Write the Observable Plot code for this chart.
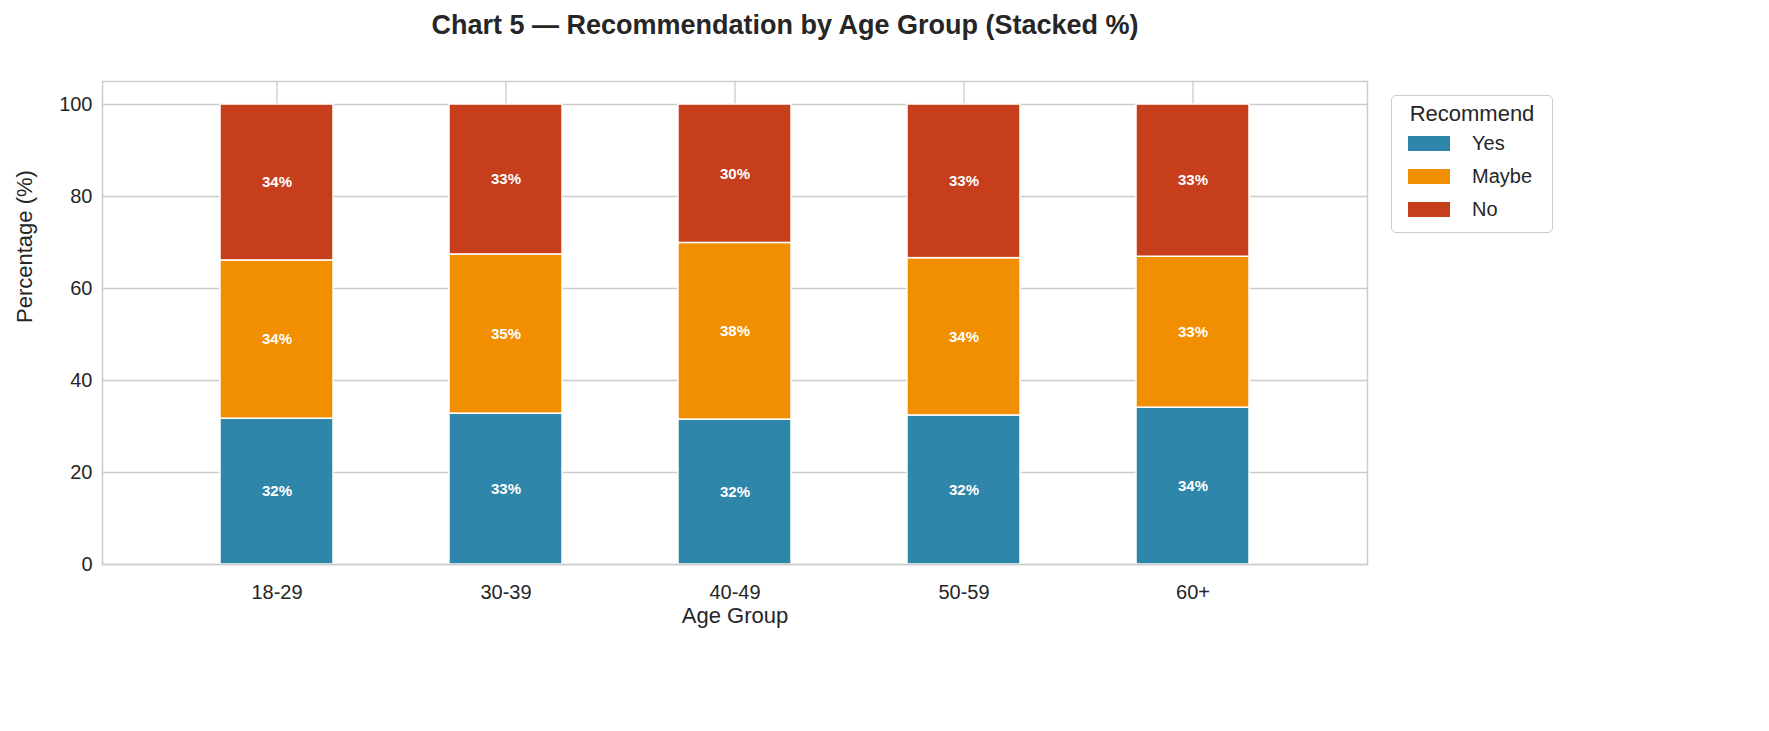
<!DOCTYPE html>
<html><head><meta charset="utf-8">
<script src="https://cdn.jsdelivr.net/npm/d3@7"></script>
<script src="https://cdn.jsdelivr.net/npm/@observablehq/plot@0.6"></script>
<style>
body{margin:0;background:#fff;font-family:"Liberation Sans",Arial,sans-serif;}
#wrap{position:relative;width:1769px;height:731px;}
#title{position:absolute;top:10px;left:0;width:1570px;text-align:center;font-weight:bold;font-size:27px;color:#262626;}
#chart{position:absolute;top:70px;left:0;}
#legend{position:absolute;left:1391px;top:95px;width:162px;height:138px;border:1.5px solid #ccc;border-radius:5px;box-sizing:border-box;font-size:20px;color:#262626;}
#legend .t{text-align:center;font-size:22px;margin-top:5px;}
#legend .r{display:flex;align-items:center;height:33px;padding-left:16px;}
#legend .s{width:42px;height:15px;margin-right:22px;}
</style></head><body>
<div id="wrap">
<div id="title">Chart 5 — Recommendation by Age Group (Stacked %)</div>
<div id="chart"></div>
<div id="legend"><div class="t">Recommend</div></div>
</div>
<script>
const groups = ["18-29","30-39","40-49","50-59","60+"];
const responses = ["Yes","Maybe","No"];
const colors = ["#2e86ab","#f18f01","#c73e1d"];
const yes = [31.7,32.8,31.5,32.4,34.1];
const maybe = [34.4,34.6,38.4,34.2,32.8];
const no = [33.9,32.6,30.1,33.4,33.1];
const yTicks = [0,20,40,60,80,100];

const series = [yes, maybe, no];
const data = [];
groups.forEach((g,i)=>responses.forEach((r,j)=>data.push({group:g,resp:r,value:series[j][i]})));

const plot = Plot.plot({
  width:1769, height:590,
  marginLeft:102, marginRight:402, marginTop:11, marginBottom:96,
  style:{fontFamily:"Liberation Sans, Arial, sans-serif", fontSize:"20px", color:"#262626"},
  x:{domain:groups, padding:0.505},
  y:{domain:[0,105]},
  color:{domain:responses, range:colors},
  marks:[
    Plot.gridY(yTicks,{stroke:"#cccccc", strokeOpacity:1, strokeWidth:1.3}),
    Plot.ruleX(groups,{x:d=>d, stroke:"#cccccc", strokeWidth:1.3}),
    Plot.barY(data, Plot.stackY({x:"group", y:"value", fill:"resp", stroke:"white", strokeWidth:1.5, order:responses})),
    Plot.text(data, Plot.stackY({x:"group", y:"value", z:"resp", order:responses, text:d=>Math.round(d.value)+"%", fill:"white", fontWeight:"bold", fontSize:15})),
    Plot.axisX({tickSize:0, tickPadding:20, fontSize:20, label:null}),
    Plot.axisY(yTicks,{tickSize:0, tickPadding:10, fontSize:20, label:null}),
    Plot.text(["Age Group"],{frameAnchor:"bottom", dy:58, fontSize:22, fill:"#262626"}),
    Plot.text(["Percentage (%)"],{frameAnchor:"left", dx:-78, rotate:-90, fontSize:22, fill:"#262626"}),
    Plot.frame({stroke:"#cccccc", strokeWidth:1.5})
  ]
});
document.getElementById("chart").appendChild(plot);
const lg=document.getElementById("legend");
responses.forEach((r,i)=>{const d=document.createElement("div");d.className="r";d.innerHTML=`<span class="s" style="background:${colors[i]}"></span>${r}`;lg.appendChild(d);});
</script>
</body></html>
